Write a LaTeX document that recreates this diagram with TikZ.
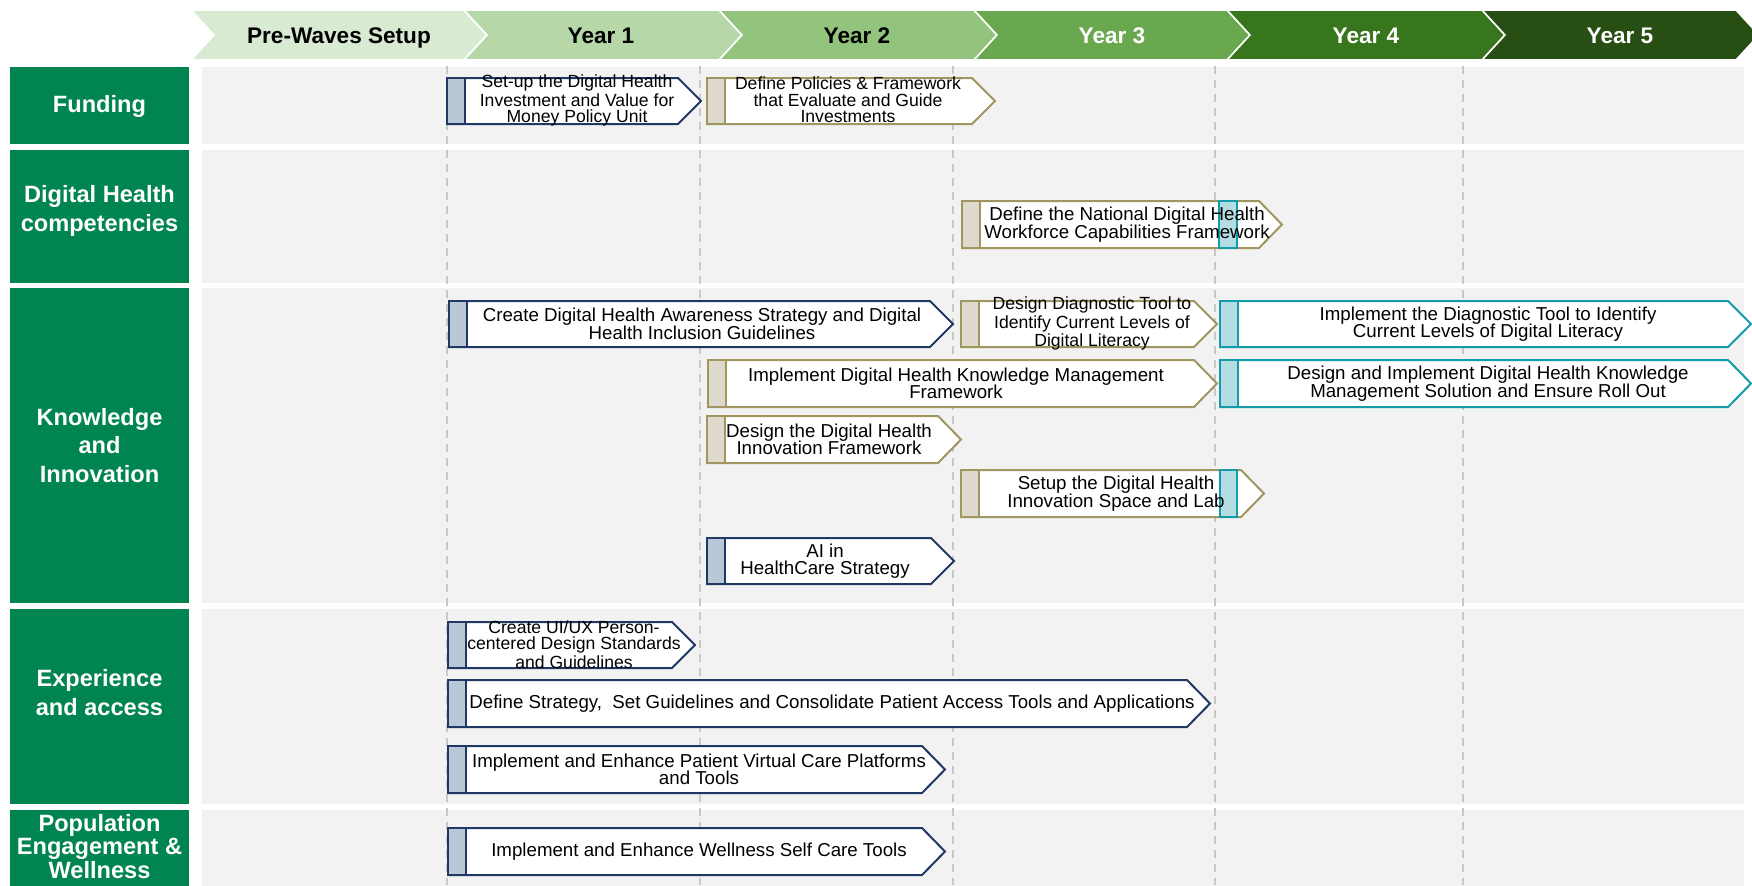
\documentclass[tikz,border=0pt]{standalone}
\usepackage{fontspec}
\setmainfont{Liberation Sans}
\definecolor{navyc}{RGB}{31,56,100}
\definecolor{navyf}{RGB}{185,200,215}
\definecolor{olivec}{RGB}{160,150,96}
\definecolor{olivef}{RGB}{221,217,204}
\definecolor{tealc}{RGB}{20,155,170}
\definecolor{tealf}{RGB}{180,221,227}
\definecolor{labgreen}{RGB}{0,133,80}
\definecolor{rowgrey}{RGB}{242,242,242}
\definecolor{dashc}{RGB}{200,200,200}
\definecolor{hpre}{RGB}{217,234,211}
\definecolor{hyone}{RGB}{182,215,168}
\definecolor{hytwo}{RGB}{147,196,125}
\definecolor{hythree}{RGB}{106,168,79}
\definecolor{hyfour}{RGB}{56,118,29}
\definecolor{hyfive}{RGB}{39,78,19}
\tikzset{
  navybox/.style={draw=navyc, line width=1pt, fill=white, line join=miter},
  navystrip/.style={draw=navyc, line width=1pt, fill=navyf},
  olivebox/.style={draw=olivec, line width=1pt, fill=white, line join=miter},
  olivestrip/.style={draw=olivec, line width=1pt, fill=olivef},
  tealbox/.style={draw=tealc, line width=1pt, fill=white, line join=miter},
  tealstrip/.style={draw=tealc, line width=1pt, fill=tealf},
  tasktext/.style={font=\fontsize{9.35}{8.8}\selectfont, align=center, inner sep=0pt, text=black},
  tasksmall/.style={font=\fontsize{8.8}{8.2}\selectfont, align=center, inner sep=0pt, text=black},
  labtext/.style={font=\bfseries\fontsize{11.8}{14.2}\selectfont, align=center, text=white, inner sep=0pt},
  headtext/.style={font=\bfseries\fontsize{11.3}{13}\selectfont, inner sep=0pt, text height=8.1pt, text depth=0pt},
  rowbg/.style={fill=rowgrey},
  labbox/.style={fill=labgreen},
  gridline/.style={draw=dashc, line width=0.65pt, dash pattern=on 4pt off 3pt},
  chevstyle/.style={draw=white, line width=0.8pt}
}
\newcommand{\taskshape}[5]{%
  \pgfmathsetmacro{\tskym}{(#3+#4)/2}%
  \pgfmathsetmacro{\tskxt}{#2+23}%
  \pgfmathsetmacro{\tskxs}{#1+18}%
  \draw[#5box] (#1,#3) -- (#2,#3) -- (\tskxt,\tskym) -- (#2,#4) -- (#1,#4) -- cycle;
  \draw[#5strip] (#1,#3) rectangle (\tskxs,#4);
}
\newcommand{\chev}[3]{%
  \pgfmathsetmacro{\chvR}{#2+23}%
  \pgfmathsetmacro{\chvL}{#1+23}%
  \filldraw[chevstyle, fill=#3] (#1,10) -- (#2,10) -- (\chvR,35) -- (#2,60) -- (#1,60) -- (\chvL,35) -- cycle;
}
\begin{document}
\begin{tikzpicture}[x=0.5pt, y=-0.5pt]
\useasboundingbox (0,0) rectangle (1752,885);
\clip (0,0) rectangle (1752,885);
% row backgrounds
\fill[rowbg] (202,67) rectangle (1744,144);
\fill[rowbg] (202,150) rectangle (1744,283);
\fill[rowbg] (202,288) rectangle (1744,603);
\fill[rowbg] (202,609) rectangle (1744,804);
\fill[rowbg] (202,810) rectangle (1744,895);
% dashed year lines
\foreach \gx in {447,700,953,1215,1463}{\draw[gridline] (\gx,66) -- (\gx,885);}
% row labels
\fill[labbox] (10,67) rectangle (189,144);
\fill[labbox] (10,150) rectangle (189,283);
\fill[labbox] (10,288) rectangle (189,603);
\fill[labbox] (10,609) rectangle (189,804);
\fill[labbox] (10,810) rectangle (189,895);
\node[labtext] (funding) at (99.5,106.2) {Funding};
\node[labtext, font=\bfseries\fontsize{11.8}{14.6}\selectfont] (dhc) at (99.5,210.5) {Digital Health\\competencies};
\node[labtext] (kni) at (99.5,445.5) {Knowledge\\and\\Innovation};
\node[labtext] (exa) at (99.5,692.5) {Experience\\and access};
\node[labtext, font=\bfseries\fontsize{11.8}{11.6}\selectfont] (pew) at (99.5,846.5) {Population\\Engagement \&\\Wellness};
% header
\chev{191}{464}{hpre}
\chev{464}{719}{hyone}
\chev{719}{974}{hytwo}
\chev{974}{1227}{hythree}
\chev{1227}{1482}{hyfour}
\chev{1482}{1736}{hyfive}
\node[headtext] (hpw) at (339,35) {Pre-Waves Setup};
\node[headtext] (hy1) at (601,35) {Year 1};
\node[headtext] (hy2) at (857,35) {Year 2};
\node[headtext, text=white] (hy3) at (1112,35) {Year 3};
\node[headtext, text=white] (hy4) at (1366,35) {Year 4};
\node[headtext, text=white] (hy5) at (1620,35) {Year 5};
% task shapes
\taskshape{447}{678}{78}{124}{navy}
\taskshape{707}{972}{78}{124}{olive}
\taskshape{962}{1259}{201}{248}{olive}
\draw[tealstrip] (1219,201) rectangle (1237,248);
\taskshape{449}{930}{301}{347}{navy}
\taskshape{961}{1194}{301}{347}{olive}
\taskshape{1220}{1728}{301}{347}{teal}
\taskshape{708}{1194}{360}{407}{olive}
\taskshape{1220}{1728}{360}{407}{teal}
\taskshape{707}{938}{416}{463}{olive}
\taskshape{961}{1241}{470}{517}{olive}
\draw[tealstrip] (1219.5,470) rectangle (1237,517);
\taskshape{707}{931}{538}{584}{navy}
\taskshape{448}{672}{622}{668}{navy}
\taskshape{448}{1187}{680}{727}{navy}
\taskshape{448}{922}{746}{793}{navy}
\taskshape{448}{922}{828}{875}{navy}
% task texts
\node[tasksmall] (t1) at (577,100.5) {Set-up the Digital Health\\Investment and Value for\\Money Policy Unit};
\node[tasksmall] (t2) at (848,100) {Define Policies \& Framework\\that Evaluate and Guide\\Investments};
\node[tasktext] (t3) at (1127,224.5) {Define the National Digital Health\\Workforce Capabilities Framework};
\node[tasktext] (t4) at (702,324) {Create Digital Health Awareness Strategy and Digital\\Health Inclusion Guidelines};
\node[tasksmall] (t5) at (1092,323.5) {Design Diagnostic Tool to\\Identify Current Levels of\\Digital Literacy};
\node[tasktext] (t6) at (1488,324) {Implement the Diagnostic Tool to Identify\\Current Levels of Digital Literacy};
\node[tasktext] (t7) at (956,383.5) {Implement Digital Health Knowledge Management\\Framework};
\node[tasktext] (t8) at (1488,383.5) {Design and Implement Digital Health Knowledge\\Management Solution and Ensure Roll Out};
\node[tasktext] (t9) at (829,439.5) {Design the Digital Health\\Innovation Framework};
\node[tasktext] (t10) at (1116,493.5) {Setup the Digital Health\\Innovation Space and Lab};
\node[tasktext] (t11) at (825,561) {AI in\\HealthCare Strategy};
\node[tasksmall] (t12) at (574,644.5) {Create UI/UX Person-\\centered Design Standards\\and Guidelines};
\node[tasktext] (t13) at (832,703.5) {Define Strategy,\ \ Set Guidelines and Consolidate Patient Access Tools and Applications};
\node[tasktext] (t14) at (699,769.5) {Implement and Enhance Patient Virtual Care Platforms\\and Tools};
\node[tasktext] (t15) at (699,851.5) {Implement and Enhance Wellness Self Care Tools};
\end{tikzpicture}
\end{document}
